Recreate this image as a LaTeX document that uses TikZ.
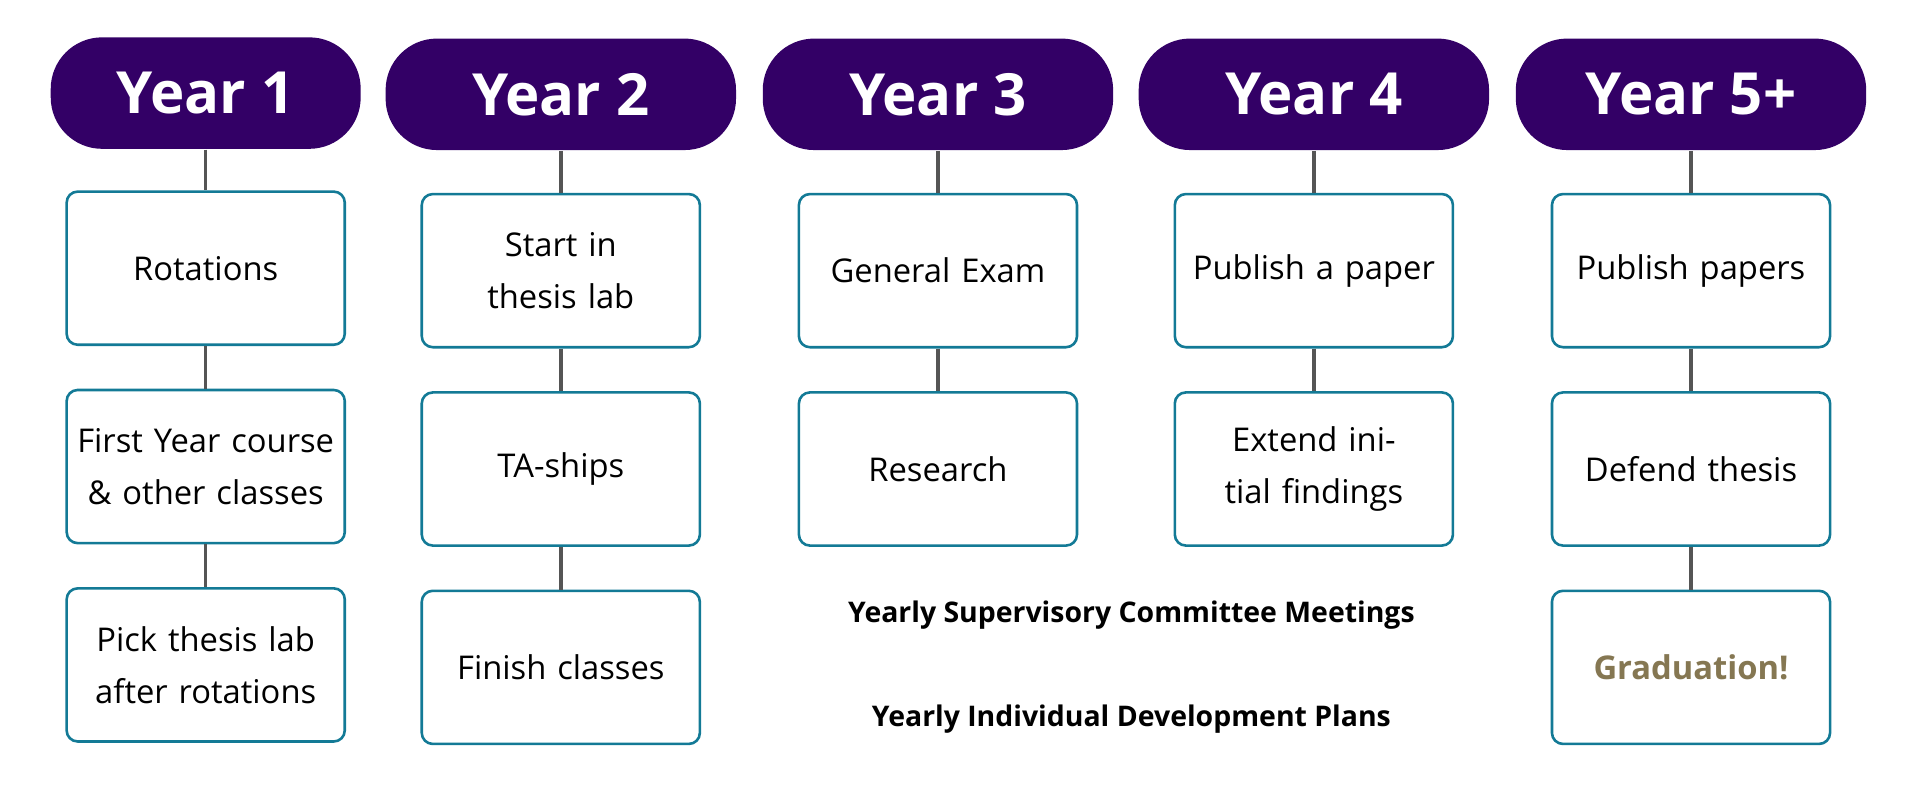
\documentclass[tikz,border=0pt]{standalone}
\usepackage{fontspec}
\setmainfont{Open Sans}
\usetikzlibrary{positioning}

\definecolor{yearpurple}{HTML}{330066}
\definecolor{boxteal}{HTML}{137A96}
\definecolor{linegray}{HTML}{555555}
\definecolor{gradgold}{HTML}{857752}

\tikzset{
    year/.style={fill=yearpurple, rounded corners=0.42cm, minimum width=2.86cm, minimum height=0.91cm,
        text=white, font=\fontsize{13.5}{15}\selectfont\bfseries},
    milestone/.style={draw=boxteal, line width=0.6pt, rounded corners=0.09cm, fill=white,
        minimum width=2.27cm, minimum height=1.25cm, text width=2.2cm, align=center,
        font=\fontsize{7.6}{12}\selectfont, inner sep=0pt},
    link/.style={draw=linegray, line width=0.8pt},
    note/.style={font=\fontsize{6.6}{8}\selectfont\bfseries}
}

\begin{document}
\begin{tikzpicture}[x=0.01cm, y=-0.01cm]

    \useasboundingbox (0,0) rectangle (1568,644);

    %% Year headers
    \node[year, minimum width=2.53cm] (y1) at (168, 76) {Year 1};
    \node[year] (y2) at (458, 77) {Year 2};
    \node[year] (y3) at (766, 77) {Year 3};
    \node[year] (y4) at (1073, 77) {Year 4};
    \node[year] (y5) at (1381, 77) {Year 5+};

    %% Year 1
    \node[milestone] (rot) at (168, 219) {Rotations};
    \node[milestone] (first) at (168, 381) {First Year course \& other classes};
    \node[milestone] (pick) at (168, 543) {Pick thesis lab after rotations};

    %% Year 2
    \node[milestone] (start) at (458, 221) {Start in thesis lab};
    \node[milestone] (ta) at (458, 383) {TA-ships};
    \node[milestone] (finish) at (458, 545) {Finish classes};

    %% Year 3
    \node[milestone] (gen) at (766, 221) {General Exam};
    \node[milestone] (res) at (766, 383) {Research};

    %% Year 4
    \node[milestone] (pub) at (1073, 221) {Publish a paper};
    \node[milestone] (ext) at (1073, 383) {Extend initial findings};

    %% Year 5+
    \node[milestone] (pubs) at (1381, 221) {Publish papers};
    \node[milestone] (def) at (1381, 383) {Defend thesis};
    \node[milestone, font=\fontsize{7.6}{12}\selectfont\bfseries, text=gradgold] (grad) at (1381, 545) {Graduation!};

    % Connectors
    \draw[link] (y1) -- (rot);
    \draw[link] (rot) -- (first);
    \draw[link] (first) -- (pick);
    \draw[link] (y2) -- (start);
    \draw[link] (start) -- (ta);
    \draw[link] (ta) -- (finish);
    \draw[link] (y3) -- (gen);
    \draw[link] (gen) -- (res);
    \draw[link] (y4) -- (pub);
    \draw[link] (pub) -- (ext);
    \draw[link] (y5) -- (pubs);
    \draw[link] (pubs) -- (def);
    \draw[link] (def) -- (grad);

    % Notes
    \node[note] (meet) at (924, 502) {Yearly Supervisory Committee Meetings};
    \node[note] (idp) at (924, 587) {Yearly Individual Development Plans};

\end{tikzpicture}
\end{document}
